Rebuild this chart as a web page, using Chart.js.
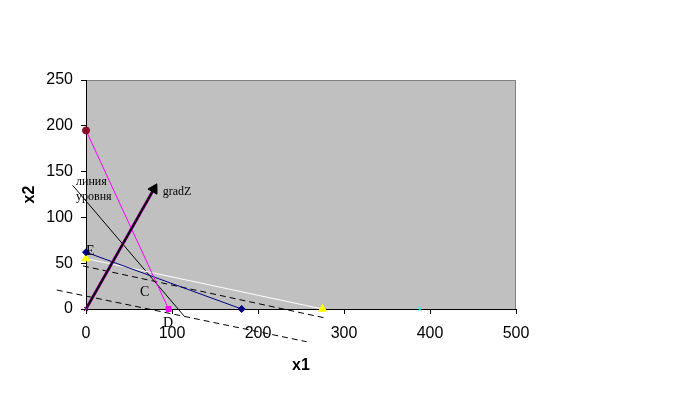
<!DOCTYPE html>
<html>
<head>
<meta charset="utf-8">
<script src="https://cdn.jsdelivr.net/npm/chart.js@4/dist/chart.umd.min.js"></script>
<style>
  html, body { margin: 0; padding: 0; background: #fff; }
  #wrap { width: 684px; height: 396px; }
</style>
</head>
<body>
<div id="wrap"><canvas id="c" width="684" height="396"></canvas></div>
<script>
// Axis ticks
const xTicks = [0, 100, 200, 300, 400, 500];
const yTicks = [0, 50, 100, 150, 200, 250];

// Constraint lines
const magentaX = [0, 96];
const magentaY = [195, 0];
const navyX = [0, 181];
const navyY = [62, 0];
const whiteX = [0, 275];
const whiteY = [55, 0];

// Gradient vector gradZ
const gradX = [0, 79];
const gradY = [0, 131];

// Level line ("линия уровня")
const levelX = [-15.5, 114];
const levelY = [135, -7.6];

// Dashed parallel lines
const dash1X = [-34, 256.5];
const dash1Y = [20.7, -35.7];
const dash2X = [-3.5, 280];
const dash2Y = [47, -10.2];

// Single cyan marker
const cyanX = [388];
const cyanY = [0];

// Text labels
const labelTexts = ['E', 'C', 'D', 'gradZ', 'линия', 'уровня'];
const labelX = [0, 62.8, 89.5, 89.2, -11.6, -11.6];
const labelY = [58.9, 14.2, -19.6, 124.5, 135.4, 119];
const labelSizes = [14, 14, 14, 12, 12, 12];

function pts(xs, ys) { return xs.map((x, i) => ({ x: x, y: ys[i] })); }

const bgPlugin = {
  id: 'bg',
  beforeDraw(chart) {
    const { ctx, chartArea: a } = chart;
    ctx.save();
    ctx.fillStyle = '#C0C0C0';
    ctx.fillRect(a.left, a.top, a.right - a.left, a.bottom - a.top);
    ctx.strokeStyle = '#808080';
    ctx.lineWidth = 1;
    ctx.beginPath();
    ctx.moveTo(a.left, a.top + 0.5);
    ctx.lineTo(a.right - 0.5, a.top + 0.5);
    ctx.lineTo(a.right - 0.5, a.bottom);
    ctx.stroke();
    ctx.restore();
  }
};

const labelPlugin = {
  id: 'labels',
  afterDatasetsDraw(chart) {
    const { ctx, scales } = chart;
    ctx.save();
    ctx.fillStyle = '#000';
    ctx.textAlign = 'left';
    ctx.textBaseline = 'alphabetic';
    labelTexts.forEach((t, i) => {
      ctx.font = labelSizes[i] + 'px "Liberation Serif", "Times New Roman", serif';
      ctx.fillText(t, scales.x.getPixelForValue(labelX[i]), scales.y.getPixelForValue(labelY[i]));
    });
    ctx.restore();
  }
};

const tickFont = { family: '"Liberation Sans", Arial, sans-serif', size: 16 };

new Chart(document.getElementById('c'), {
  type: 'scatter',
  data: {
    datasets: [
      {
        data: pts(gradX, gradY), showLine: true, borderColor: '#000', borderWidth: 2,
        pointRadius: [3, 6], pointStyle: ['crossRot', 'triangle'], rotation: [0, 29.5],
        pointBackgroundColor: ['#800080', '#000'], pointBorderColor: ['#800080', '#000'],
        pointBorderWidth: 1, order: 1, clip: false
      },
      {
        data: pts(gradX, gradY), showLine: true, borderColor: '#C000C0', borderWidth: 3,
        pointRadius: 0, order: 2, clip: false
      },
      {
        data: pts(magentaX, magentaY), showLine: true, borderColor: '#FF00FF', borderWidth: 1,
        pointRadius: [3.5, 3.5], pointStyle: ['circle', 'rect'],
        pointBackgroundColor: ['#8B0A2A', '#FF00FF'], pointBorderColor: ['#8B0A2A', '#FF00FF'],
        order: 3, clip: false
      },
      {
        data: pts(navyX, navyY), showLine: true, borderColor: '#000080', borderWidth: 1,
        pointRadius: 3.5, pointStyle: 'rectRot',
        pointBackgroundColor: '#000080', pointBorderColor: '#000080',
        order: 4, clip: false
      },
      {
        data: pts(whiteX, whiteY), showLine: true, borderColor: '#FFFFFF', borderWidth: 1,
        pointRadius: 4.5, pointStyle: 'triangle',
        pointBackgroundColor: '#FFFF00', pointBorderColor: '#FFFF00',
        order: 5, clip: false
      },
      {
        data: pts(levelX, levelY), showLine: true, borderColor: '#000', borderWidth: 1,
        pointRadius: 0, order: 6, clip: false
      },
      {
        data: pts(dash1X, dash1Y), showLine: true, borderColor: '#000', borderWidth: 1,
        borderDash: [6, 4], pointRadius: 0, order: 7, clip: false
      },
      {
        data: pts(dash2X, dash2Y), showLine: true, borderColor: '#000', borderWidth: 1,
        borderDash: [6, 4], pointRadius: 0, order: 8, clip: false
      },
      {
        data: pts(cyanX, cyanY), showLine: false, pointRadius: 3, pointStyle: 'crossRot',
        pointBorderColor: '#00FFFF', pointBackgroundColor: '#00FFFF', order: 9, clip: false
      }
    ]
  },
  options: {
    responsive: false,
    animation: false,
    events: [],
    layout: { padding: { left: 0, top: 80, right: 168, bottom: 0 } },
    plugins: { legend: { display: false }, tooltip: { enabled: false } },
    scales: {
      x: {
        type: 'linear', min: 0, max: 500,
        afterFit(s) { s.height = 87; },
        afterBuildTicks(s) { s.ticks = xTicks.map(v => ({ value: v })); },
        grid: { drawOnChartArea: false, drawTicks: true, tickLength: 5, tickColor: '#000' },
        border: { color: '#000', width: 1 },
        ticks: { font: tickFont, color: '#000', padding: 10, maxRotation: 0 },
        title: { display: true, text: 'x1', color: '#000',
          font: { family: '"Liberation Sans", Arial, sans-serif', size: 16, weight: 'bold' },
          padding: { top: 0, bottom: 21 } }
      },
      y: {
        type: 'linear', min: 0, max: 250,
        afterFit(s) { s.width = 86; },
        afterBuildTicks(s) { s.ticks = yTicks.map(v => ({ value: v })); },
        grid: { drawOnChartArea: false, drawTicks: true, tickLength: 5, tickColor: '#000' },
        border: { color: '#000', width: 1 },
        ticks: { font: tickFont, color: '#000', padding: 8 },
        title: { display: true, text: 'x2', color: '#000',
          font: { family: '"Liberation Sans", Arial, sans-serif', size: 16, weight: 'bold' },
          padding: { top: 20, bottom: 0 } }
      }
    }
  },
  plugins: [bgPlugin, labelPlugin]
});
</script>
</body>
</html>
